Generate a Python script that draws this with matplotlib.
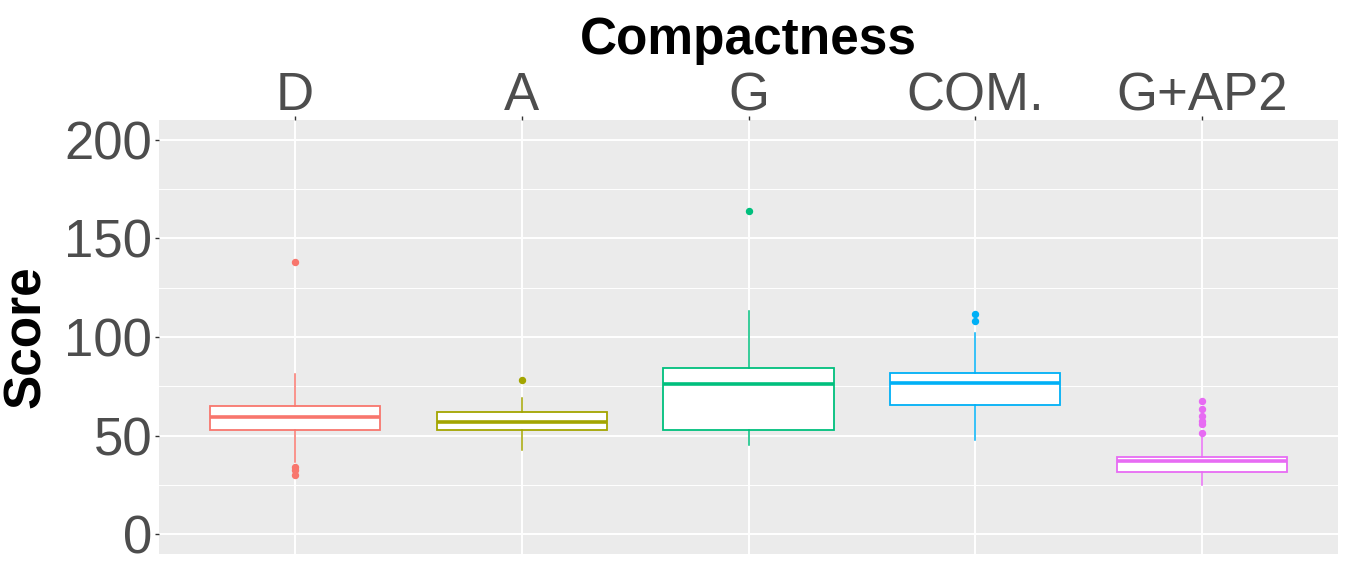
import matplotlib
matplotlib.use("Agg")
import matplotlib.pyplot as plt
from matplotlib.ticker import MultipleLocator

plt.rcParams['font.family'] = ['Liberation Sans', 'DejaVu Sans']

categories = ["D", "A", "G", "COM.", "G+AP2"]
colors = ["#F8766D", "#A3A500", "#00BF7D", "#00B0F6", "#E76BF3"]
whisker_low = [36.7, 42.9, 45.4, 47.7, 24.9]
q1 = [52.7, 52.7, 52.9, 65.4, 31.8]
median = [59.6, 56.8, 76.0, 76.5, 37.0]
q3 = [64.9, 62.2, 84.1, 81.9, 39.4]
whisker_high = [81.3, 69.3, 113.2, 102.0, 49.5]
outliers = [
    [137.8, 34.1, 32.6, 29.9],
    [78.2],
    [164.0],
    [111.7, 108.3],
    [67.7, 63.5, 60.1, 57.6, 55.8, 51.4],
]

W, H = 1346, 562
fig = plt.figure(figsize=(W / 100, H / 100), dpi=100)
ax = fig.add_axes([159 / W, 8 / H, 1179 / W, 434 / H])
ax.set_facecolor("#EBEBEB")
for s in ax.spines.values():
    s.set_visible(False)

ax.set_ylim(-10, 210)
ax.yaxis.set_major_locator(MultipleLocator(50))
ax.yaxis.set_minor_locator(MultipleLocator(25))
ax.grid(which="major", color="white", linewidth=1.4)
ax.grid(which="minor", axis="y", color="white", linewidth=0.7)
ax.set_axisbelow(True)

for i in range(len(categories)):
    st = dict(med=median[i], q1=q1[i], q3=q3[i], whislo=whisker_low[i],
              whishi=whisker_high[i], fliers=outliers[i])
    c = colors[i]
    ax.bxp([st], positions=[i + 1], widths=0.75, patch_artist=True,
           showcaps=False,
           boxprops=dict(facecolor="white", edgecolor=c, linewidth=1.3),
           medianprops=dict(color=c, linewidth=2.6, solid_capstyle="butt"),
           whiskerprops=dict(color=c, linewidth=1.1),
           flierprops=dict(marker="o", markerfacecolor=c, markeredgecolor=c,
                           markersize=4.3, linestyle="none"),
           zorder=3)

ax.set_xlim(0.4, 5.6)
ax.set_xticks(range(1, len(categories) + 1))
ax.set_xticklabels(categories)
ax.xaxis.tick_top()
ax.tick_params(axis="both", which="major", length=3, width=1, color="#333333",
               labelsize=38, labelcolor="#4D4D4D", pad=2)
ax.tick_params(axis="x", which="major", pad=-4)
ax.tick_params(axis="y", which="minor", length=0)
ax.tick_params(axis="x", which="both", bottom=False, top=True)

fig.text(748.5 / W, 1 - 54 / H, "Compactness", fontsize=37, fontweight="bold",
         ha="center", va="baseline")
fig.text(27 / W, 1 - 337 / H, "Score", fontsize=37, fontweight="bold",
         ha="center", va="center", rotation=90)

fig.savefig("out.png", dpi=100)
